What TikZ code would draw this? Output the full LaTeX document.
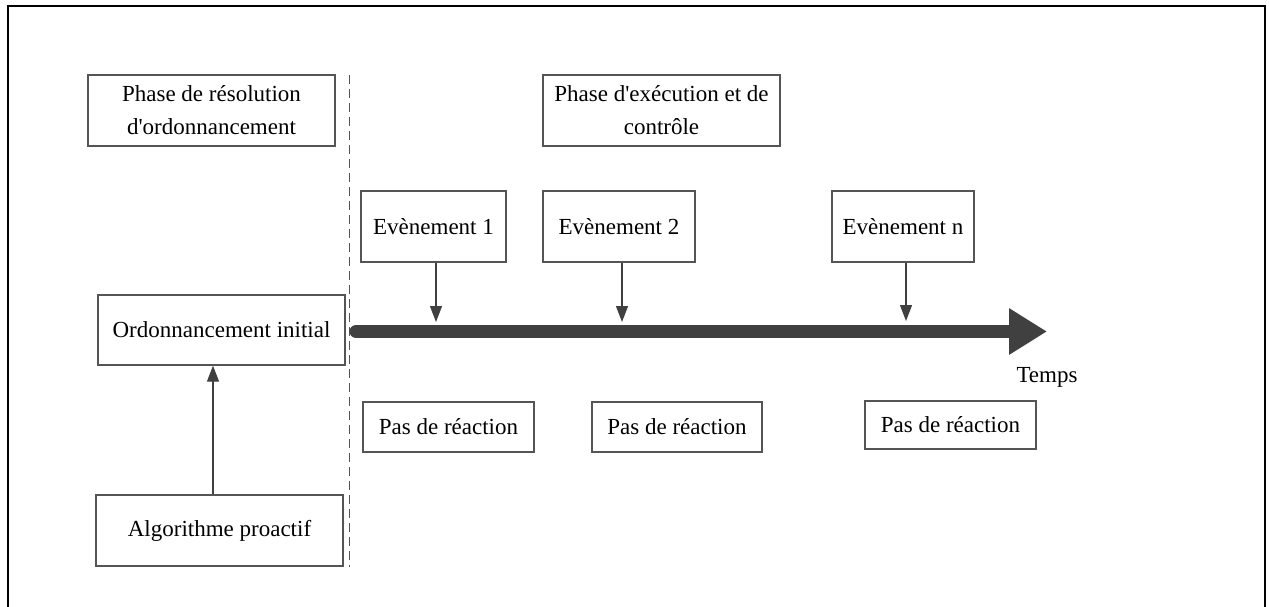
\documentclass[tikz,border=0pt]{standalone}
\usepackage{fontspec}
\setmainfont{Liberation Serif}
\usetikzlibrary{arrows.meta}
\definecolor{boxline}{HTML}{555555}
\definecolor{tline}{HTML}{404040}
\begin{document}
\begin{tikzpicture}[x=1pt,y=-1pt,
  box/.style={draw=boxline, line width=1.3pt, rectangle, inner sep=0pt,
    align=center, font=\fontsize{23}{33}\selectfont, text=black},
  conn/.style={draw=boxline, line width=1.3pt, -{Triangle[length=16pt,width=12pt]}, tline},
  timeline/.style={draw=tline, line width=13pt, line cap=round, -{Triangle[length=38pt,width=44pt]}},
  divider/.style={draw=boxline, line width=1.3pt, dash pattern=on 9pt off 5pt}]
\useasboundingbox (0,0) rectangle (1269,607);
% outer frame (no bottom edge)
\draw[line width=2.5pt, black] (8,607) -- (8,6) -- (1265,6) -- (1265,607);

\node[box, minimum width=247pt, minimum height=71pt] (phase1) at (211.5,110.5) {Phase de résolution\\d\textquotesingle ordonnancement};
\node[box, minimum width=237pt, minimum height=71pt] (phase2) at (661.5,110.5) {Phase d\textquotesingle exécution et de\\contrôle};
\node[box, minimum width=145pt, minimum height=71pt] (ev1) at (433.5,226.5) {Evènement 1};
\node[box, minimum width=152pt, minimum height=71pt] (ev2) at (619,226.5) {Evènement 2};
\node[box, minimum width=142pt, minimum height=71pt] (evn) at (903,226.5) {Evènement n};
\node[box, minimum width=247pt, minimum height=70pt] (ord) at (221.5,330) {Ordonnancement initial};
\node[box, minimum width=247pt, minimum height=71pt] (algo) at (219.5,530.5) {Algorithme proactif};
\node[box, minimum width=171pt, minimum height=50pt] (pas1) at (448.5,427) {Pas de réaction};
\node[box, minimum width=170pt, minimum height=50pt] (pas2) at (677,427) {Pas de réaction};
\node[box, minimum width=171pt, minimum height=48pt] (pas3) at (950.5,425) {Pas de réaction};
\node[font=\fontsize{23}{27}\selectfont, inner sep=0pt] (temps) at (1047,377) {Temps};

% divider
\coordinate (dtop) at (349.5,75);
\coordinate (dbot) at (349.5,567);
\draw[divider] (dtop) -- (dbot);

% timeline
\coordinate (tstart) at (356,331.5);
\coordinate (tend) at (1047,331.5);
\draw[timeline] (tstart) -- (tend);

% event arrows
\coordinate (e1) at (436,322);
\coordinate (e2) at (622,322);
\coordinate (en) at (906,321);
\draw[conn] (ev1.south -| e1) -- (e1);
\draw[conn] (ev2.south -| e2) -- (e2);
\draw[conn] (evn.south -| en) -- (en);

% proactive arrow
\draw[conn] (algo.north -| 213,0) -- (ord.south -| 213,0);
\end{tikzpicture}
\end{document}
